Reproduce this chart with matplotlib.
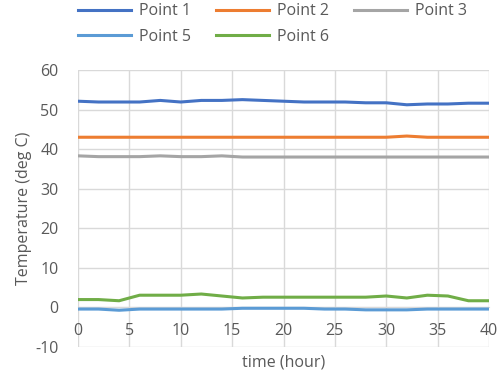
import matplotlib.pyplot as plt
import numpy as np

plt.rcParams['font.family'] = ['Open Sans', 'DejaVu Sans']
plt.rcParams['axes.unicode_minus'] = False

hours = list(range(0, 42, 2))
point1 = [52.1, 51.9, 51.9, 51.9, 52.3, 51.9, 52.3, 52.3, 52.5, 52.3, 52.1,
          51.9, 51.9, 51.9, 51.7, 51.7, 51.2, 51.4, 51.4, 51.6, 51.6]
point2 = [43.0, 43.0, 43.0, 43.0, 43.0, 43.0, 43.0, 43.0, 43.0, 43.0, 43.0,
          43.0, 43.0, 43.0, 43.0, 43.0, 43.3, 43.0, 43.0, 43.0, 43.0]
point3 = [38.3, 38.1, 38.1, 38.1, 38.3, 38.1, 38.1, 38.3, 38.0, 38.0, 38.0,
          38.0, 38.0, 38.0, 38.0, 38.0, 38.0, 38.0, 38.0, 38.0, 38.0]
point5 = [-0.4, -0.4, -0.7, -0.4, -0.4, -0.4, -0.4, -0.4, -0.2, -0.2, -0.2,
          -0.2, -0.4, -0.4, -0.6, -0.6, -0.6, -0.4, -0.4, -0.4, -0.4]
point6 = [2.0, 2.0, 1.7, 3.1, 3.1, 3.1, 3.4, 2.9, 2.4, 2.6, 2.6,
          2.6, 2.6, 2.6, 2.6, 2.9, 2.4, 3.1, 2.9, 1.7, 1.7]

series = [("Point 1", point1, "#4472C4"),
          ("Point 2", point2, "#ED7D31"),
          ("Point 3", point3, "#A5A5A5"),
          ("Point 5", point5, "#5B9BD5"),
          ("Point 6", point6, "#70AD47")]

txt = "#595959"
fig = plt.figure(figsize=(5, 3.74), dpi=100)
ax = fig.add_axes([0.156, 0.072, 0.822, 0.741])

lines = {}
for name, vals, col in series:
    lines[name], = ax.plot(hours, vals, color=col, lw=2.2, label=name, zorder=3)

ax.set_xlim(0, 40)
ax.set_ylim(-10, 60)
ax.set_xticks(np.arange(0, 41, 5))
ax.set_yticks(np.arange(-10, 61, 10))
ax.grid(True, color="#D9D9D9", lw=1)
for s in ax.spines.values():
    s.set_visible(False)
ax.spines['bottom'].set_visible(True)
ax.spines['bottom'].set_position(('data', 0))
ax.spines['bottom'].set_color("#D9D9D9")
ax.tick_params(length=0, colors=txt, labelsize=11.5)
ax.tick_params(axis='x', pad=11)
ax.tick_params(axis='y', pad=14)
ax.set_xlabel("time (hour)", color=txt, fontsize=11.5)
ax.xaxis.set_label_coords(0.5, -0.025)
ax.set_ylabel("Temperature (deg C)", color=txt, fontsize=11.5, labelpad=2)

# column-major fill so rows read Point 1,2,3 / Point 5,6
order = ["Point 1", "Point 5", "Point 2", "Point 6", "Point 3"]
leg = fig.legend([lines[n] for n in order], order, loc="upper center",
                 bbox_to_anchor=(0.545, 1.03), ncol=3,
                 frameon=False, fontsize=11.5, handlelength=3.3,
                 columnspacing=1.6, labelspacing=0.6, handletextpad=0.5)
for t in leg.get_texts():
    t.set_color(txt)

fig.savefig("out.png", dpi=100)
plt.close()
